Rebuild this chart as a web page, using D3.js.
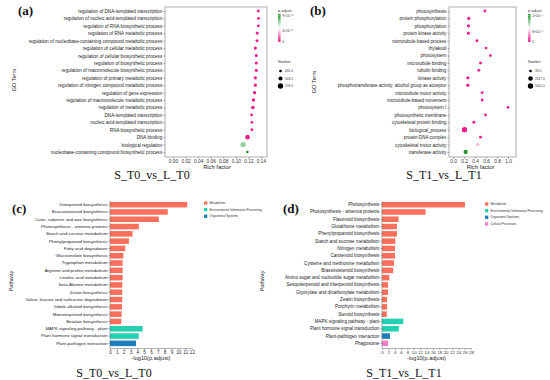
<!DOCTYPE html>
<html><head><meta charset="utf-8">
<script src="https://cdn.jsdelivr.net/npm/d3@7"></script>
<style>body{margin:0;background:#fff} svg{display:block;font-family:"Liberation Sans",Arial,sans-serif}</style>
</head><body><svg id="c" width="550" height="380"></svg>
<script>
// ---------- Panel (a) data ----------
const goTermsA = [
"regulation of DNA-templated transcription",
"regulation of nucleic acid-templated transcription",
"regulation of RNA biosynthetic process",
"regulation of RNA metabolic process",
"regulation of nucleobase-containing compound metabolic process",
"regulation of cellular metabolic process",
"regulation of cellular biosynthetic process",
"regulation of biosynthetic process",
"regulation of macromolecule biosynthetic process",
"regulation of primary metabolic process",
"regulation of nitrogen compound metabolic process",
"regulation of gene expression",
"regulation of macromolecule metabolic process",
"regulation of metabolic process",
"DNA-templated transcription",
"nucleic acid-templated transcription",
"RNA biosynthetic process",
"DNA binding",
"biological regulation",
"nucleobase-containing compound biosynthetic process"];
const richA = [0.1357,0.136,0.1357,0.134,0.1337,0.131,0.1325,0.1325,0.1325,0.131,0.131,0.1297,0.128,0.127,0.125,0.1255,0.1255,0.1186,0.1116,0.1183];
const numberA = [440,440,440,445,446,452,448,450,448,460,455,462,470,478,440,440,440,530,576,431];
const padjA = [1e-24,1e-24,1e-24,2e-24,2e-24,5e-24,4e-24,4e-24,4e-24,6e-24,6e-24,8e-24,1e-23,2e-23,1e-23,1e-23,1e-23,3e-22,6.6e-20,9e-20];
const padjTicksA = ["9×10⁻²⁰","4×10⁻²⁰","0"];
const numTicksA = [431.0,503.5,576.0];
const richTicksA = [0,0.02,0.04,0.06,0.08,0.10,0.12,0.14];

// ---------- Panel (b) data ----------
const goTermsB = [
"photosynthesis","protein phosphorylation","phosphorylation","protein kinase activity",
"microtubule-based process","thylakoid","photosystem","microtubule binding","tubulin binding",
"kinase activity","phosphotransferase activity, alcohol group as acceptor","microtubule motor activity",
"microtubule-based movement","photosystem I","photosynthetic membrane","cytoskeletal protein binding",
"biological_process","protein-DNA complex","cytoskeletal motor activity","transferase activity"];
const richB = [0.58,0.285,0.28,0.28,0.436,0.6,0.68,0.5,0.47,0.27,0.27,0.53,0.53,1.0,0.59,0.38,0.21,0.5,0.45,0.23];
const numberB = [90,330,350,320,120,70,60,110,115,380,390,90,90,33,65,150,5001,85,100,1900];
const padjB = [1e-20,1e-22,1e-22,1e-21,1e-19,1e-19,1e-19,1e-18,1e-18,1e-20,1e-20,1e-18,1e-18,1e-18,1e-19,1e-17,1e-30,1e-17,6.2e-16,2e-15];
const padjTicksB = ["2×10⁻¹⁵","8×10⁻¹⁶","0"];
const numTicksB = [33.0,2517.0,5001.0];
const richTicksB = [0,0.2,0.4,0.6,0.8,1.0];

// ---------- Panel (c) data ----------
const pathwaysC = ["Diterpenoid biosynthesis","Brassinosteroid biosynthesis","Cutin, suberine and wax biosynthesis",
"Photosynthesis - antenna proteins","Starch and sucrose metabolism","Phenylpropanoid biosynthesis",
"Fatty acid degradation","Glucosinolate biosynthesis","Tryptophan metabolism","Arginine and proline metabolism",
"Linoleic acid metabolism","beta-Alanine metabolism","Zeatin biosynthesis","Valine, leucine and isoleucine degradation",
"Indole alkaloid biosynthesis","Monoterpenoid biosynthesis","Betalain biosynthesis",
"MAPK signaling pathway - plant","Plant hormone signal transduction","Plant-pathogen interaction"];
const valuesC = [11.3,8.45,7.15,4.23,3.3,2.77,2.24,1.95,1.85,1.85,1.85,1.8,1.8,1.8,1.75,1.7,1.65,4.77,4.2,3.8];
const classesC = ["Metabolism","Metabolism","Metabolism","Metabolism","Metabolism","Metabolism","Metabolism",
"Metabolism","Metabolism","Metabolism","Metabolism","Metabolism","Metabolism","Metabolism","Metabolism",
"Metabolism","Metabolism","Environmental Information Processing","Environmental Information Processing","Organismal Systems"];
const ticksC = [0,1,2,3,4,5,6,7,8,9,10,11,12];

// ---------- Panel (d) data ----------
const pathwaysD = ["Photosynthesis","Photosynthesis - antenna proteins","Flavonoid biosynthesis","Glutathione metabolism",
"Phenylpropanoid biosynthesis","Starch and sucrose metabolism","Nitrogen metabolism","Carotenoid biosynthesis",
"Cysteine and methionine metabolism","Brassinosteroid biosynthesis","Amino sugar and nucleotide sugar metabolism",
"Sesquiterpenoid and triterpenoid biosynthesis","Glyoxylate and dicarboxylate metabolism","Zeatin biosynthesis",
"Porphyrin metabolism","Steroid biosynthesis","MAPK signaling pathway - plant","Plant hormone signal transduction",
"Plant-pathogen interaction","Phagosome"];
const valuesD = [26.1,13.7,5.2,4.7,4.7,4.2,4.1,4.1,3.8,3.5,2.3,1.9,1.9,1.6,1.6,1.5,6.7,5.3,2.5,1.9];
const classesD = ["Metabolism","Metabolism","Metabolism","Metabolism","Metabolism","Metabolism","Metabolism","Metabolism",
"Metabolism","Metabolism","Metabolism","Metabolism","Metabolism","Metabolism","Metabolism","Metabolism",
"Environmental Information Processing","Environmental Information Processing","Organismal Systems","Cellular Processes"];
const ticksD = [0,2,4,6,8,10,12,14,16,18,20,22,24,26,28];

const classNames = ["Metabolism","Environmental Information Processing","Organismal Systems","Cellular Processes"];
const classColors = ["#FC6F5C","#24CFB2","#1A7EBA","#F57FCC"];

const svg = d3.select("#c");
const PINK = "#EE1C8C", GREEN = "#1A9A2C";
const SERIF = "'Liberation Serif','Times New Roman',serif";
const SANS = "'Liberation Sans',Arial,sans-serif";

function dotPanel(o) {
  const g = svg.append("g");
  const x = d3.scaleLinear().domain(o.xDomain).range(o.xRange);
  const y = d3.scalePoint().domain(o.labels).range(o.yRange);
  const pmax = o.pmax;
  const color = d3.scaleLinear().domain([0, pmax/2, pmax]).range([PINK, "#ffffff", GREEN]).clamp(true);
  const size = d3.scaleSqrt().domain(o.numDomain).range([1.35, 2.7]);
  const [bx0,bx1,by0,by1] = o.box;
  g.append("rect").attr("x",bx0).attr("y",by0).attr("width",bx1-bx0).attr("height",by1-by0)
    .attr("fill","none").attr("stroke","#8a8a8a").attr("stroke-width",0.7);
  const ya = g.append("g").attr("transform",`translate(${bx0},0)`)
    .call(d3.axisLeft(y).tickSize(1.6).tickPadding(1.2));
  ya.select(".domain").remove();
  ya.selectAll("line").attr("stroke","#555").attr("stroke-width",0.5);
  ya.selectAll("text").attr("font-size",o.labelSize).attr("fill","#222").style("font-family",SANS);
  const xa = g.append("g").attr("transform",`translate(0,${by1})`)
    .call(d3.axisBottom(x).tickValues(o.xTicks).tickFormat(o.fmt).tickSize(1.6).tickPadding(1));
  xa.select(".domain").remove();
  xa.selectAll("line").attr("stroke","#555").attr("stroke-width",0.5);
  xa.selectAll("text").attr("font-size",4.8).attr("fill","#333").style("font-family",SANS);
  g.append("text").attr("x",(o.xRange[0]+o.xRange[1])/2).attr("y",by1+11.5).attr("text-anchor","middle")
    .attr("font-size",5.8).attr("fill","#222").text("Rich factor");
  g.append("text").attr("transform",`translate(${o.goX},${o.goY}) rotate(-90)`).attr("text-anchor","middle")
    .attr("font-size",5.6).attr("fill","#222").text("GO Term");
  g.selectAll("circle.d").data(o.labels).join("circle")
    .attr("cx",(d,i)=>x(o.rich[i])).attr("cy",d=>y(d))
    .attr("r",(d,i)=>size(o.number[i])).attr("fill",(d,i)=>color(o.padj[i]));
  const lx = o.legendX;
  const defs = svg.append("defs");
  const gid = "grad"+o.letter;
  const lg = defs.append("linearGradient").attr("id",gid).attr("x1",0).attr("x2",0).attr("y1",0).attr("y2",1);
  lg.append("stop").attr("offset","0%").attr("stop-color",GREEN);
  lg.append("stop").attr("offset","50%").attr("stop-color","#ffffff");
  lg.append("stop").attr("offset","100%").attr("stop-color",PINK);
  g.append("text").attr("x",lx).attr("y",12).attr("font-size",3.9).attr("fill","#333").text("p.adjust");
  g.append("rect").attr("x",lx).attr("y",14).attr("width",2.6).attr("height",28).attr("fill",`url(#${gid})`);
  const ly = d3.scaleLinear().domain([0,1]).range([42,15.5]);
  const tickPos = [1, o.midFrac, 0];
  o.padjTicks.forEach((t,i)=>{
    g.append("line").attr("x1",lx).attr("x2",lx+2.6).attr("y1",ly(tickPos[i])).attr("y2",ly(tickPos[i])).attr("stroke","#fff").attr("stroke-width",0.3);
    g.append("text").attr("x",lx+4.2).attr("y",ly(tickPos[i])+1.3).attr("font-size",3.4).attr("fill","#333").text(t);
  });
  g.append("text").attr("x",lx).attr("y",63).attr("font-size",3.6).attr("fill","#333").text("Number");
  const ny = d3.scalePoint().domain(o.numTicks).range([71,86]);
  o.numTicks.forEach(v=>{
    g.append("circle").attr("cx",lx+2.5).attr("cy",ny(v)).attr("r",size(v)).attr("fill","#000");
    g.append("text").attr("x",lx+7).attr("y",ny(v)+1.2).attr("font-size",3.2).attr("fill","#333").text(v.toFixed(1));
  });
  g.append("text").attr("x",o.titleX).attr("y",179).attr("text-anchor","middle")
    .style("font-family",SERIF).attr("font-size",12).attr("fill","#111").text(o.title);
  g.append("text").attr("x",o.letterX).attr("y",15).style("font-family",SERIF)
    .attr("font-weight","bold").attr("font-size",13).attr("fill","#111").text(`(${o.letter})`);
}

function barPanel(o) {
  const g = svg.append("g");
  const x = d3.scaleLinear().domain(o.xDomain).range(o.xRange);
  const y = d3.scaleBand().domain(o.labels).range(o.yRange).paddingInner(0.24).paddingOuter(0.12);
  const color = d3.scaleOrdinal().domain(classNames).range(classColors);
  const axisY = o.yRange[1] + 1.5;
  g.selectAll("rect.b").data(o.labels).join("rect")
    .attr("x",x(0)).attr("y",d=>y(d)).attr("height",y.bandwidth())
    .attr("width",(d,i)=>x(o.values[i])-x(0)).attr("fill",(d,i)=>color(o.classes[i]));
  const ya = g.append("g").attr("transform",`translate(${x(0)},0)`)
    .call(d3.axisLeft(y).tickSize(1.6).tickPadding(1));
  ya.select(".domain").attr("stroke","#666").attr("stroke-width",0.5).attr("d",`M0,${o.yRange[0]}V${axisY}`);
  ya.selectAll("line").attr("stroke","#555").attr("stroke-width",0.5);
  ya.selectAll("text").attr("font-size",o.labelSize).attr("fill","#222").style("font-family",SANS);
  const xa = g.append("g").attr("transform",`translate(0,${axisY})`)
    .call(d3.axisBottom(x).tickValues(o.ticks).tickSize(1.6).tickPadding(0.8));
  xa.select(".domain").attr("stroke","#666").attr("stroke-width",0.5).attr("d",`M${x(0)},0H${o.xRange[1]}`);
  xa.selectAll("line").attr("stroke","#555").attr("stroke-width",0.5);
  xa.selectAll("text").attr("font-size",o.tickSize).attr("fill","#333").style("font-family",SANS);
  g.append("text").attr("x",(o.xRange[0]+o.xRange[1])/2).attr("y",axisY+11).attr("text-anchor","middle")
    .attr("font-size",5.6).attr("fill","#222").text("-log10(p.adjust)");
  g.append("text").attr("transform",`translate(${o.pwX},${o.pwY}) rotate(-90)`).attr("text-anchor","middle")
    .attr("font-size",5.4).attr("fill","#222").text("Pathway");
  const used = classNames.filter(c=>o.classes.includes(c));
  used.forEach((c,i)=>{
    const yy = o.legY + i*6.6;
    g.append("rect").attr("x",o.legX).attr("y",yy-1.6).attr("width",3.3).attr("height",3.3).attr("fill",color(c));
    g.append("text").attr("x",o.legX+5.5).attr("y",yy+1.1).attr("font-size",3.1).attr("fill","#333").text(c);
  });
  g.append("text").attr("x",o.titleX).attr("y",377).attr("text-anchor","middle")
    .style("font-family",SERIF).attr("font-size",12).attr("fill","#111").text(o.title);
  g.append("text").attr("x",o.letterX).attr("y",213).style("font-family",SERIF)
    .attr("font-weight","bold").attr("font-size",13).attr("fill","#111").text(`(${o.letter})`);
}

dotPanel({labels:goTermsA, rich:richA, number:numberA, padj:padjA, pmax:9e-20, midFrac:4/9,
  xDomain:[0,0.14], xRange:[173,261], yRange:[11,152], box:[165,267,7,157], xTicks:richTicksA,
  fmt:d3.format(".2f"), numDomain:[431,576], padjTicks:padjTicksA, numTicks:numTicksA,
  legendX:278, labelSize:4.6, goX:16, goY:80, title:"S_T0_vs_L_T0", titleX:152, letter:"a", letterX:18});
dotPanel({labels:goTermsB, rich:richB, number:numberB, padj:padjB, pmax:2e-15, midFrac:0.4,
  xDomain:[0,1], xRange:[453,508], yRange:[11,152], box:[449,516,7,157], xTicks:richTicksB,
  fmt:d3.format(".1f"), numDomain:[33,5001], padjTicks:padjTicksB, numTicks:numTicksB,
  legendX:528, labelSize:4.5, goX:316, goY:82, title:"S_T1_vs_L_T1", titleX:444, letter:"b", letterX:310});
barPanel({labels:pathwaysC, values:valuesC, classes:classesC, xDomain:[0,12], xRange:[110,192],
  yRange:[201,347], ticks:ticksC, tickSize:4.8, labelSize:4.4, pwX:13, pwY:281, legX:204, legY:203,
  title:"S_T0_vs_L_T0", titleX:114, letter:"c", letterX:12});
barPanel({labels:pathwaysD, values:valuesD, classes:classesD, xDomain:[0,28], xRange:[382,471],
  yRange:[201,347], ticks:ticksD, tickSize:4.4, labelSize:4.6, pwX:264, pwY:281, legX:485, legY:204,
  title:"S_T1_vs_L_T1", titleX:404, letter:"d", letterX:283});
</script></body></html>
